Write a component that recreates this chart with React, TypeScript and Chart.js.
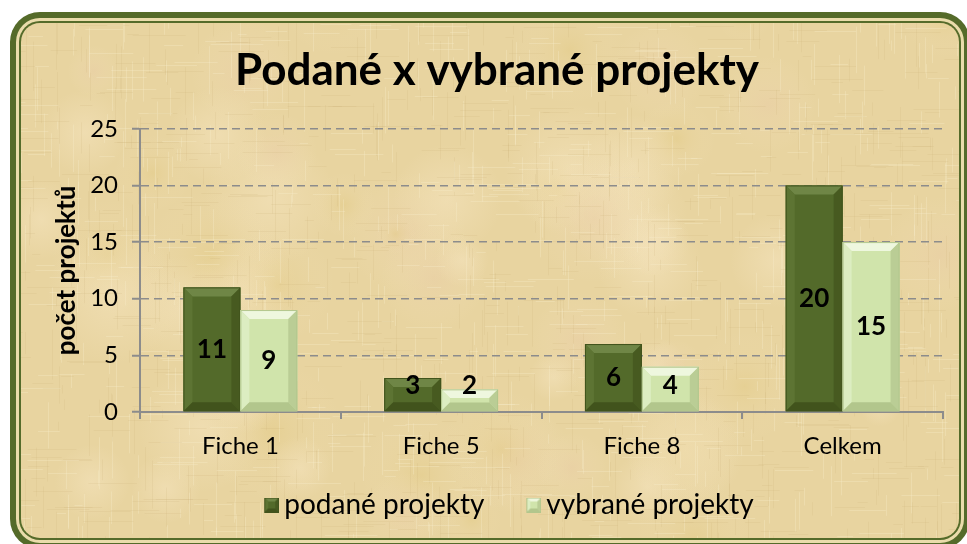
import React, { useEffect, useRef } from 'react';
import { Chart, registerables } from 'chart.js';

Chart.register(...registerables);

const categories = ['Fiche 1', 'Fiche 5', 'Fiche 8', 'Celkem'];
const podaneValues = [11, 3, 6, 20];
const vybraneValues = [9, 2, 4, 15];
const seriesNames = ['podané projekty', 'vybrané projekty'];
const yTickValues = [0, 5, 10, 15, 20, 25];
const chartTitle = 'Podané x vybrané projekty';
const yAxisTitle = 'počet projektů';

const FONT = 'Lato, "Noto Sans", sans-serif';

const DARK = { main: '#536a2a', top: '#6f8646', left: '#5d7433', right: '#475a20', bottom: '#41531c' };
const LIGHT = { main: '#d0e4ab', top: '#eef7de', left: '#dcedc1', right: '#bacd95', bottom: '#b2c68c' };
const palettes = [DARK, LIGHT];

const LEGEND_BOX = 30;

function drawBevelRect(ctx: CanvasRenderingContext2D, l: number, t: number, r: number, b: number, p: any, bev: number) {
  const h = b - t;
  const w = r - l;
  const e = Math.max(1, Math.min(bev, h / 2.5, w / 3));
  ctx.fillStyle = p.main;
  ctx.fillRect(l, t, w, h);
  const poly = (pts: number[][], c: string) => {
    ctx.beginPath();
    ctx.moveTo(pts[0][0], pts[0][1]);
    for (let i = 1; i < pts.length; i++) ctx.lineTo(pts[i][0], pts[i][1]);
    ctx.closePath();
    ctx.fillStyle = c;
    ctx.fill();
  };
  poly([[l, t], [r, t], [r - e, t + e], [l + e, t + e]], p.top);
  poly([[l, t], [l + e, t + e], [l + e, b - e], [l, b]], p.left);
  poly([[r, t], [r, b], [r - e, b - e], [r - e, t + e]], p.right);
  poly([[l, b], [r, b], [r - e, b - e], [l + e, b - e]], p.bottom);
  ctx.strokeStyle = p.bottom;
  ctx.lineWidth = 1;
  ctx.strokeRect(l + 0.5, t + 0.5, w - 1, h - 1);
}

// legend marker image: transparent lead-in, beveled square at its right end
function makeMarker(p: any) {
  const size = 15;
  const c = document.createElement('canvas');
  c.width = LEGEND_BOX + 18;
  c.height = size;
  const ctx = c.getContext('2d')!;
  drawBevelRect(ctx, c.width - size, 0, c.width, size, p, 4);
  return c;
}

function roundRectPath(ctx: CanvasRenderingContext2D, x: number, y: number, w: number, h: number, r: number) {
  ctx.beginPath();
  ctx.moveTo(x + r, y);
  ctx.lineTo(x + w - r, y);
  ctx.arcTo(x + w, y, x + w, y + r, r);
  ctx.lineTo(x + w, y + h - r);
  ctx.arcTo(x + w, y + h, x + w - r, y + h, r);
  ctx.lineTo(x + r, y + h);
  ctx.arcTo(x, y + h, x, y + h - r, r);
  ctx.lineTo(x, y + r);
  ctx.arcTo(x, y, x + r, y, r);
  ctx.closePath();
}

const backgroundPlugin = {
  id: 'parchmentFrame',
  beforeDraw(chart: any) {
    const ctx = chart.ctx as CanvasRenderingContext2D;
    const W = chart.width;
    const H = chart.height;
    ctx.save();
    ctx.fillStyle = '#ffffff';
    ctx.fillRect(0, 0, W, H);
    const x0 = 10, y0 = 12, x1 = W + 3, y1 = H + 5;
    roundRectPath(ctx, x0, y0, x1 - x0, y1 - y0, 30);
    ctx.fillStyle = '#556b2a';
    ctx.fill();
    roundRectPath(ctx, x0 + 6, y0 + 6, x1 - x0 - 12, y1 - y0 - 12, 24);
    ctx.fillStyle = '#eadcab';
    ctx.fill();
    roundRectPath(ctx, x0 + 9, y0 + 9, x1 - x0 - 18, y1 - y0 - 18, 21);
    ctx.fillStyle = '#556b2a';
    ctx.fill();
    roundRectPath(ctx, x0 + 11, y0 + 11, x1 - x0 - 22, y1 - y0 - 22, 19);
    ctx.save();
    ctx.clip();
    ctx.fillStyle = '#e8d4a0';
    ctx.fillRect(0, 0, W, H);
    // deterministic fine woven texture
    let s = 12345;
    const rnd = () => {
      s = (s * 1103515245 + 12345) % 2147483648;
      return s / 2147483648;
    };
    for (let i = 0; i < 60; i++) {
      const x = rnd() * W;
      const y = rnd() * H;
      const r = 20 + rnd() * 50;
      const rg = ctx.createRadialGradient(x, y, 0, x, y, r);
      const kind = rnd();
      const c0 = kind > 0.6 ? 'rgba(245,228,190,0.55)' : kind > 0.3 ? 'rgba(225,200,125,0.35)' : 'rgba(235,205,170,0.4)';
      rg.addColorStop(0, c0);
      rg.addColorStop(1, 'rgba(245,228,190,0)');
      ctx.fillStyle = rg;
      ctx.fillRect(x - r, y - r, 2 * r, 2 * r);
    }
    for (let i = 0; i < 900; i++) {
      const x = rnd() * W;
      const len = 8 + rnd() * 45;
      const y = rnd() * H;
      ctx.fillStyle = rnd() > 0.5 ? 'rgba(250,238,205,0.3)' : 'rgba(195,170,115,0.14)';
      ctx.fillRect(Math.round(x), y, 1, len);
    }
    for (let i = 0; i < 900; i++) {
      const x = rnd() * W;
      const len = 8 + rnd() * 45;
      const y = rnd() * H;
      ctx.fillStyle = rnd() > 0.5 ? 'rgba(250,238,205,0.3)' : 'rgba(195,170,115,0.14)';
      ctx.fillRect(x, Math.round(y), len, 1);
    }
    ctx.restore();
    ctx.restore();
  },
};

const bevelPlugin = {
  id: 'bevelBars',
  afterDatasetsDraw(chart: any) {
    const ctx = chart.ctx as CanvasRenderingContext2D;
    ctx.save();
    chart.data.datasets.forEach((ds: any, di: number) => {
      const meta = chart.getDatasetMeta(di);
      meta.data.forEach((bar: any, i: number) => {
        const l = bar.x - bar.width / 2;
        const r = bar.x + bar.width / 2;
        const t = Math.min(bar.y, bar.base);
        const b = Math.max(bar.y, bar.base);
        drawBevelRect(ctx, l, t, r, b, palettes[di], 9);
        const v = ds.data[i];
        let cy = (t + b) / 2;
        cy = Math.min(cy, b - 26);
        ctx.fillStyle = '#000';
        ctx.font = `bold 26px ${FONT}`;
        ctx.textAlign = 'center';
        ctx.textBaseline = 'middle';
        ctx.fillText(String(v), bar.x, cy);
      });
    });
    ctx.restore();
  },
};

export default function App() {
  const ref = useRef<HTMLCanvasElement>(null);
  useEffect(() => {
    document.body.style.margin = '0';
    let chart: Chart | null = null;
    let cancelled = false;
    const build = () => {
      if (cancelled || !ref.current) return;
      chart = new Chart(ref.current, {
        type: 'bar',
        data: {
          labels: categories,
          datasets: [
            {
              label: seriesNames[0],
              data: podaneValues,
              backgroundColor: 'rgba(0,0,0,0)',
              borderWidth: 0,
              pointStyle: makeMarker(DARK) as any,
            },
            {
              label: seriesNames[1],
              data: vybraneValues,
              backgroundColor: 'rgba(0,0,0,0)',
              borderWidth: 0,
              pointStyle: makeMarker(LIGHT) as any,
            },
          ],
        },
        options: {
          responsive: false,
          animation: false,
          devicePixelRatio: 1,
          categoryPercentage: 0.567,
          barPercentage: 1,
          layout: { padding: { left: 51, right: 24, top: 28, bottom: 15 } },
          plugins: {
            title: {
              display: true,
              text: chartTitle,
              color: '#000',
              font: { family: FONT, size: 44, weight: 'bold' },
              padding: { top: 16, bottom: 32 },
            },
            legend: {
              position: 'bottom',
              labels: {
                usePointStyle: true,
                pointStyleWidth: LEGEND_BOX,
                padding: 18,
                color: '#000',
                font: { family: FONT, size: 28 },
              },
            },
            tooltip: { enabled: false },
          },
          scales: {
            x: {
              grid: { display: true, drawOnChartArea: false, drawTicks: true, tickLength: 7, offset: true, color: '#8c8c8c', lineWidth: 2 },
              border: { display: true, color: '#8c8c8c', width: 2 },
              ticks: { color: '#000', font: { family: FONT, size: 24 }, padding: 13 },
              afterFit: (scale: any) => { scale.height = 61; },
            },
            y: {
              min: 0,
              max: 25,
              afterBuildTicks: (scale: any) => { scale.ticks = yTickValues.map((v) => ({ value: v })); },
              grid: { color: '#8c8c8c', lineWidth: 1.5, tickLength: 8, tickColor: '#8c8c8c', tickWidth: 2 } as any,
              border: { display: true, color: '#8c8c8c', width: 2, dash: [8, 5] } as any,
              ticks: { color: '#000', font: { family: FONT, size: 24 }, padding: 14 },
              title: { display: true, text: yAxisTitle, color: '#000', font: { family: FONT, size: 26, weight: 'bold' }, padding: 0 },
              afterFit: (scale: any) => { scale.width = 89; },
            },
          },
        },
        plugins: [backgroundPlugin, bevelPlugin],
      });
    };
    const fonts: any = (document as any).fonts;
    if (fonts && fonts.load) {
      Promise.all([
        fonts.load(`24px Lato`),
        fonts.load(`28px Lato`),
        fonts.load(`bold 26px Lato`),
        fonts.load(`bold 44px Lato`),
      ]).then(build, build);
    } else {
      build();
    }
    return () => {
      cancelled = true;
      if (chart) chart.destroy();
    };
  }, []);
  return <canvas ref={ref} width={967} height={544} style={{ display: 'block' }} />;
}
